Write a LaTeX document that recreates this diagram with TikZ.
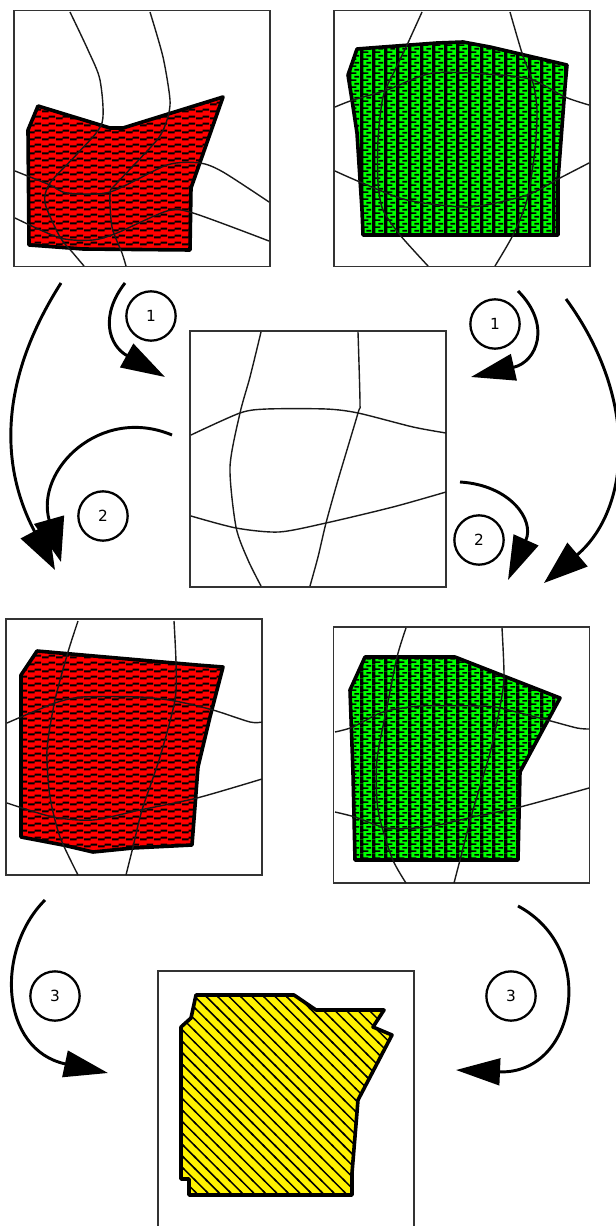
\documentclass[tikz,border=0pt]{standalone}
\usepackage{fontspec}
\setmainfont{DejaVu Sans}
\usetikzlibrary{arrows.meta,patterns}

\pgfdeclarepatternformonly{redbrick}{\pgfqpoint{0pt}{0pt}}{\pgfqpoint{10.5pt}{5.25pt}}{\pgfqpoint{10.5pt}{5.25pt}}{
  \pgfpathrectangle{\pgfqpoint{0pt}{0.6pt}}{\pgfqpoint{5.25pt}{1.7pt}}
  \pgfpathrectangle{\pgfqpoint{5.25pt}{2.1pt}}{\pgfqpoint{5.25pt}{1.7pt}}
  \pgfusepath{fill}}
\pgfdeclarepatternformonly{greenhook}{\pgfqpoint{0pt}{0pt}}{\pgfqpoint{9pt}{5.5pt}}{\pgfqpoint{9pt}{5.5pt}}{
  \pgfpathrectangle{\pgfqpoint{0pt}{0pt}}{\pgfqpoint{2.7pt}{5.5pt}}
  \pgfpathrectangle{\pgfqpoint{2.7pt}{0.9pt}}{\pgfqpoint{4.1pt}{1.3pt}}
  \pgfpathrectangle{\pgfqpoint{5.2pt}{3.6pt}}{\pgfqpoint{3.8pt}{1.3pt}}
  \pgfusepath{fill}}
\pgfdeclarepatternformonly{yellowline}{\pgfqpoint{-1pt}{-1pt}}{\pgfqpoint{9.6pt}{9.6pt}}{\pgfqpoint{8.6pt}{8.6pt}}{
  \pgfsetlinewidth{1.1pt}
  \pgfpathmoveto{\pgfqpoint{-1pt}{9.6pt}}
  \pgfpathlineto{\pgfqpoint{9.6pt}{-1pt}}
  \pgfusepath{stroke}}

\begin{document}
\begin{tikzpicture}[x=0.75pt, y=-0.75pt,
  panel/.style={draw=black!80, line width=1.25pt, minimum size=192pt, inner sep=0pt},
  lat/.style={draw=black!90, line width=1.05pt, smooth, tension=0.45},
  redpoly/.style={draw=black, line width=2.7pt, line join=round, preaction={fill=red}, pattern=redbrick},
  greenpoly/.style={draw=black, line width=2.7pt, line join=round, preaction={fill=green}, pattern=greenhook},
  yellowpoly/.style={draw=black, line width=2.7pt, line join=round, preaction={fill=yellow}, pattern=yellowline},
  num/.style={draw=black, line width=1.7pt, circle, minimum size=37pt, inner sep=0pt, font=\fontsize{11.5}{12}\selectfont},
  arr/.style={line width=2.2pt, -{Triangle[length=33pt, width=20pt]}},
  bigarr/.style={line width=2.2pt, -{Triangle[length=33pt, width=23pt]}}
]
  \useasboundingbox (0,0) rectangle (616,1226);
  % Panels
  \node[panel] (p1) at (142,138.5) {};
  \node[panel] (p2) at (462,138.5) {};
  \node[panel] (p3) at (318,459) {};
  \node[panel] (p4) at (134,747) {};
  \node[panel] (p5) at (461.5,755) {};
  \node[panel] (p6) at (286,1099) {};
  % Top left
  \draw[redpoly] (38,106) -- (28,130) -- (29,245) -- (83,249) -- (190,250) -- (191,188) -- (223,97)
    -- (123,128) -- (110,128) -- cycle;
  \draw[lat] plot coordinates {(70,12) (88,50) (100,80) (102,123) (78,153) (50,183) (45,203) (60,237) (73,253) (84,266)};
  \draw[lat] plot coordinates {(150,12) (163,57) (170,100) (167,120) (157,140) (117,183) (110,193) (112,227) (122,253) (126,266)};
  \draw[lat] plot coordinates {(15,171) (50,185) (67,193) (110,192) (167,165) (200,163) (223,172) (269,202)};
  \draw[lat] plot coordinates {(15,218) (60,238) (93,240) (117,233) (167,211) (193,213) (269,241)};
  % Top right
  \draw[greenpoly] (357,49) -- (383,47) -- (437,43) -- (463,42) -- (490,47) -- (567,65) -- (565,87)
    -- (558,180) -- (558,235) -- (363,235) -- (362,210) -- (357,133) -- (352,100) -- (348,75) -- cycle;
  \draw[lat] plot coordinates {(422,12) (407,45) (395,70) (383,97) (378,140) (378,183) (383,210) (400,235) (428,266)};
  \draw[lat] plot coordinates {(510,12) (522,53) (533,83) (537,110) (535,150) (527,200) (513,235) (495,266)};
  \draw[lat] plot coordinates {(335,107) (353,100) (387,90) (433,73) (500,75) (533,80) (565,97) (589,105)};
  \draw[lat] plot coordinates {(335,171) (360,182) (407,200) (470,207) (527,195) (560,178) (589,163)};
  % Middle
  \draw[lat] plot coordinates {(261,332) (250,377) (240,413) (230,467) (236,527) (248,560) (261,586)};
  \draw[lat] plot coordinates {(358,332) (360,403) (358,413) (338,480) (326,523) (318,557) (310,586)};
  \draw[lat] plot coordinates {(191,435) (240,413) (267,409) (326,409) (358,413) (413,427) (446,433)};
  \draw[lat] plot coordinates {(191,516) (236,528) (279,532) (326,523) (393,507) (446,492)};
  % Lower left
  \draw[redpoly] (37,651) -- (197,665) -- (223,667) -- (210,717) -- (198,767) -- (192,845) -- (133,848)
    -- (93,852) -- (63,845) -- (21,837) -- (21,675) -- cycle;
  \draw[lat] plot coordinates {(78,621) (68,652) (55,700) (47,750) (50,797) (60,837) (78,875)};
  \draw[lat] plot coordinates {(174,621) (176,663) (175,700) (160,757) (142,810) (133,847) (126,875)};
  \draw[lat] plot coordinates {(7,723) (55,703) (83,697) (140,697) (175,701) (213,710) (250,722) (262,722)};
  \draw[lat] plot coordinates {(7,803) (53,817) (93,820) (140,810) (197,798) (262,779)};
  % Lower right
  \draw[greenpoly] (365,657) -- (455,657) -- (560,698) -- (520,772) -- (518,860) -- (355,860) -- (353,773)
    -- (350,690) -- cycle;
  \draw[lat] plot coordinates {(406,628) (397,657) (387,707) (377,760) (378,810) (392,858) (406,883)};
  \draw[lat] plot coordinates {(502,628) (504,677) (500,707) (490,753) (473,810) (460,860) (454,883)};
  \draw[lat] plot coordinates {(335,732) (353,727) (383,712) (420,706) (480,706) (500,708) (547,720) (577,728) (589,729)};
  \draw[lat] plot coordinates {(335,812) (355,817) (387,828) (427,827) (473,817) (520,807) (589,788)};
  % Bottom
  \draw[yellowpoly] (196,995) -- (294,995) -- (316,1010) -- (384,1010) -- (373,1027) -- (392,1035)
    -- (358,1100) -- (352,1173) -- (352,1195) -- (189,1195) -- (189,1179) -- (181,1179) -- (181,1027)
    -- (191,1018) -- cycle;
  % Step labels
  \node[num] (s1a) at (151,316) {1};
  \node[num] (s1b) at (495,324) {1};
  \node[num] (s2a) at (103,516) {2};
  \node[num] (s2b) at (479,540) {2};
  \node[num] (s3a) at (55,996) {3};
  \node[num] (s3b) at (511,996) {3};
  % Arrow ends
  \coordinate (a1) at (61,283);   \coordinate (b1) at (55,570);
  \coordinate (a2) at (125,283);  \coordinate (b2) at (165,377);
  \coordinate (a3) at (172,435);  \coordinate (b3) at (61,562);
  \coordinate (a4) at (518,291);  \coordinate (b4) at (471,377);
  \coordinate (a5) at (566,299);  \coordinate (b5) at (544,583);
  \coordinate (a6) at (460,482);  \coordinate (b6) at (508,580);
  \coordinate (a7) at (45,900);   \coordinate (b7) at (108,1073);
  \coordinate (a8) at (518,906);  \coordinate (b8) at (456,1070);
  % Flow
  \draw[bigarr] (a1) .. controls (-4,385) and (2,470) .. (b1);
  \draw[arr] (a2) .. controls (100,315) and (108,345) .. (b2);
  \draw[bigarr] (a3) .. controls (100,405) and (35,470) .. (b3);
  \draw[arr] (a4) .. controls (552,325) and (537,362) .. (b4);
  \draw[bigarr] (a5) .. controls (640,400) and (630,510) .. (b5);
  \draw[arr] (a6) .. controls (510,485) and (535,520) .. (b6);
  \draw[arr] (a7) .. controls (-5,950) and (0,1050) .. (b7);
  \draw[arr] (a8) .. controls (600,950) and (575,1075) .. (b8);
\end{tikzpicture}
\end{document}
